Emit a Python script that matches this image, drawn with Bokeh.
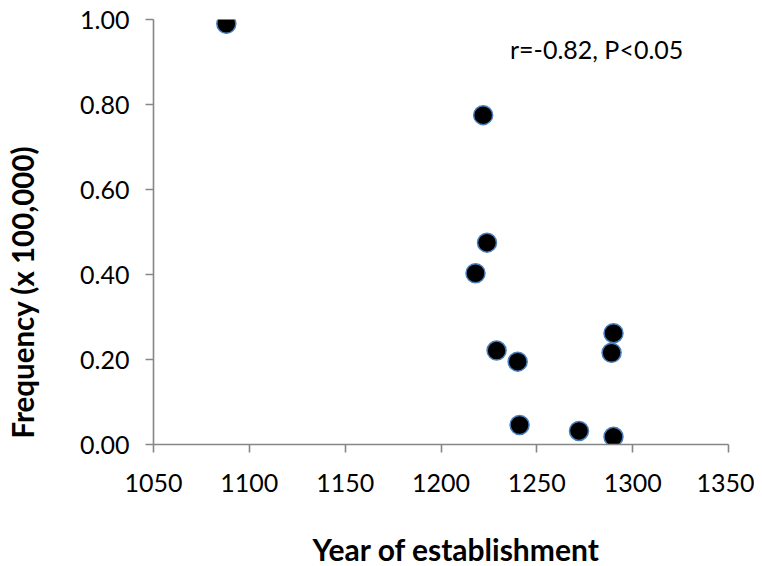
from bokeh.plotting import figure
from bokeh.models import Range1d, FixedTicker, NumeralTickFormatter, Label, Title, ColumnDataSource
from bokeh.embed import file_html
from bokeh.resources import INLINE

# Data
years = [1088, 1222, 1224, 1218, 1229, 1240, 1290, 1289, 1241, 1272, 1290]
freq = [0.99, 0.775, 0.475, 0.403, 0.221, 0.195, 0.262, 0.216, 0.046, 0.032, 0.018]
x_ticks = [1050, 1100, 1150, 1200, 1250, 1300, 1350]
y_ticks = [0.0, 0.2, 0.4, 0.6, 0.8, 1.0]
x_title = "Year of establishment"
y_title = "Frequency (x 100,000)"
annotation = "r=-0.82, P<0.05"

FONT = "Lato"
AXIS_GREY = "#868686"

p = figure(
    output_backend="svg", toolbar_location=None,
    frame_width=575, frame_height=425,
    min_border_left=153, min_border_right=26, min_border_top=19, min_border_bottom=122,
    x_range=Range1d(1050, 1350), y_range=Range1d(0, 1),
    background_fill_color="white", border_fill_color="white",
)
p.outline_line_color = None
p.xgrid.grid_line_color = None
p.ygrid.grid_line_color = None

src = ColumnDataSource(dict(x=years, y=freq))
p.scatter("x", "y", source=src, size=19, fill_color="black",
          line_color="#4a7ebb", line_width=1.5)

for ax in (p.xaxis[0], p.yaxis[0]):
    ax.axis_line_color = AXIS_GREY
    ax.axis_line_width = 1.6
    ax.major_tick_line_color = AXIS_GREY
    ax.major_tick_line_width = 1.6
    ax.major_tick_in = 0
    ax.major_tick_out = 8
    ax.minor_tick_line_color = None
    ax.major_label_text_font = FONT
    ax.major_label_text_font_size = "25px"
    ax.major_label_text_color = "black"
    # tiny blank axis label used only as spacing before the titles
    ax.axis_label = " "
    ax.axis_label_text_font_size = "1px"

p.xaxis.ticker = FixedTicker(ticks=x_ticks)
p.yaxis.ticker = FixedTicker(ticks=y_ticks)
p.yaxis.formatter = NumeralTickFormatter(format="0.00")
p.xaxis.major_label_standoff = 21
p.yaxis.major_label_standoff = 16
p.xaxis.axis_label_standoff = 30
p.yaxis.axis_label_standoff = 33

# Axis titles, offset along their axes as in the reference
p.add_layout(Title(text=x_title, align="left", offset=159, standoff=0,
                   text_font=FONT, text_font_size="30px", text_font_style="bold",
                   text_color="black"), "below")
p.add_layout(Title(text=y_title, align="left", offset=6, standoff=0,
                   text_font=FONT, text_font_size="29.5px", text_font_style="bold",
                   text_color="black"), "left")

p.add_layout(Label(x=1236, y=0.931, text=annotation, text_font=FONT,
                   text_font_size="25px", text_color="black",
                   text_baseline="alphabetic", text_align="left"))

open("out.html", "w").write(file_html(p, INLINE))
